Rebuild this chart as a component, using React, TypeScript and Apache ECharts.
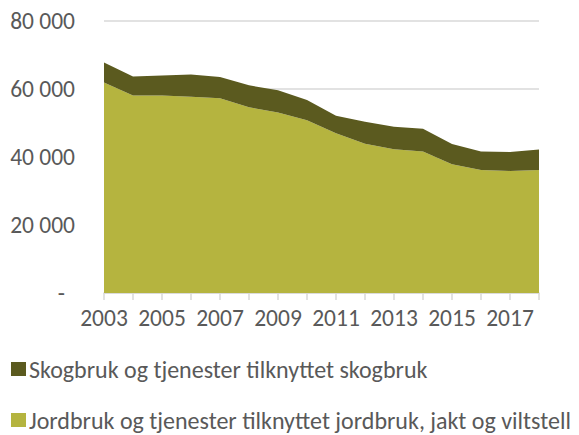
import React, { useEffect, useRef } from "react";
import * as echarts from "echarts";

const years = ["2003","2004","2005","2006","2007","2008","2009","2010","2011","2012","2013","2014","2015","2016","2017","2018"];
const jordbruk = [61900, 58100, 58100, 57700, 57300, 54600, 53100, 50800, 47000, 43900, 42300, 41600, 37900, 36200, 35900, 36200];
const skogbruk = [5900, 5600, 5900, 6600, 6200, 6500, 6500, 6000, 5100, 6500, 6600, 6700, 5900, 5400, 5600, 6000];
const seriesNames = ["Skogbruk og tjenester tilknyttet skogbruk", "Jordbruk og tjenester tilknyttet jordbruk, jakt og viltstell"];

const FONT = "Carlito, Lato, sans-serif";
const legendText = { fontFamily: FONT, fontSize: 24, lineHeight: 24, color: "#595959", padding: [0, 0, 0, -2] };

export default function App() {
  const ref = useRef<HTMLDivElement>(null);
  useEffect(() => {
    const chart = echarts.init(ref.current!, null, { renderer: "svg" });
    chart.setOption({
      animation: false,
      textStyle: { fontFamily: FONT },
      grid: { left: 104, right: 40, top: 21, bottom: 142 },
      legend: [
        {
          left: 6,
          top: 352,
          itemWidth: 15,
          itemHeight: 14,
          icon: "rect",
          data: [seriesNames[0]],
          textStyle: legendText,
        },
        {
          left: 6,
          top: 403,
          itemWidth: 15,
          itemHeight: 14,
          icon: "rect",
          data: [seriesNames[1]],
          textStyle: legendText,
        },
      ],
      xAxis: {
        type: "category",
        data: years,
        boundaryGap: false,
        axisLine: { lineStyle: { color: "#D9D9D9", width: 1.5 } },
        axisTick: { show: true, length: 7, interval: 0, lineStyle: { color: "#D9D9D9", width: 1.5 } },
        axisLabel: { interval: 1, fontFamily: FONT, fontSize: 23.5, lineHeight: 23, color: "#595959", margin: 13 },
      },
      yAxis: {
        type: "value",
        min: 0,
        max: 80000,
        interval: 20000,
        axisLine: { show: false },
        axisTick: { show: false },
        splitLine: { lineStyle: { color: "#D9D9D9", width: 1.5 } },
        axisLabel: {
          fontFamily: FONT,
          fontSize: 23.5,
          color: "#595959",
          margin: 29,
          formatter: (v: number) => (v === 0 ? "{d|-}" : String(v).replace(/\B(?=(\d{3})+(?!\d))/g, " ")),
          rich: {
            d: { fontFamily: FONT, fontSize: 23.5, color: "#595959", padding: [0, 10, 0, 0] },
          },
        },
      },
      series: [
        {
          name: seriesNames[1],
          type: "line",
          stack: "total",
          data: jordbruk,
          symbol: "none",
          lineStyle: { width: 0 },
          itemStyle: { color: "#B5B43F" },
          areaStyle: { color: "#B5B43F", opacity: 1 },
        },
        {
          name: seriesNames[0],
          type: "line",
          stack: "total",
          data: skogbruk,
          symbol: "none",
          lineStyle: { width: 0 },
          itemStyle: { color: "#5B5A1F" },
          areaStyle: { color: "#5B5A1F", opacity: 1 },
        },
      ],
    });
    return () => chart.dispose();
  }, []);
  return <div ref={ref} style={{ width: 579, height: 435, position: "absolute", left: 0, top: 0 }} />;
}
